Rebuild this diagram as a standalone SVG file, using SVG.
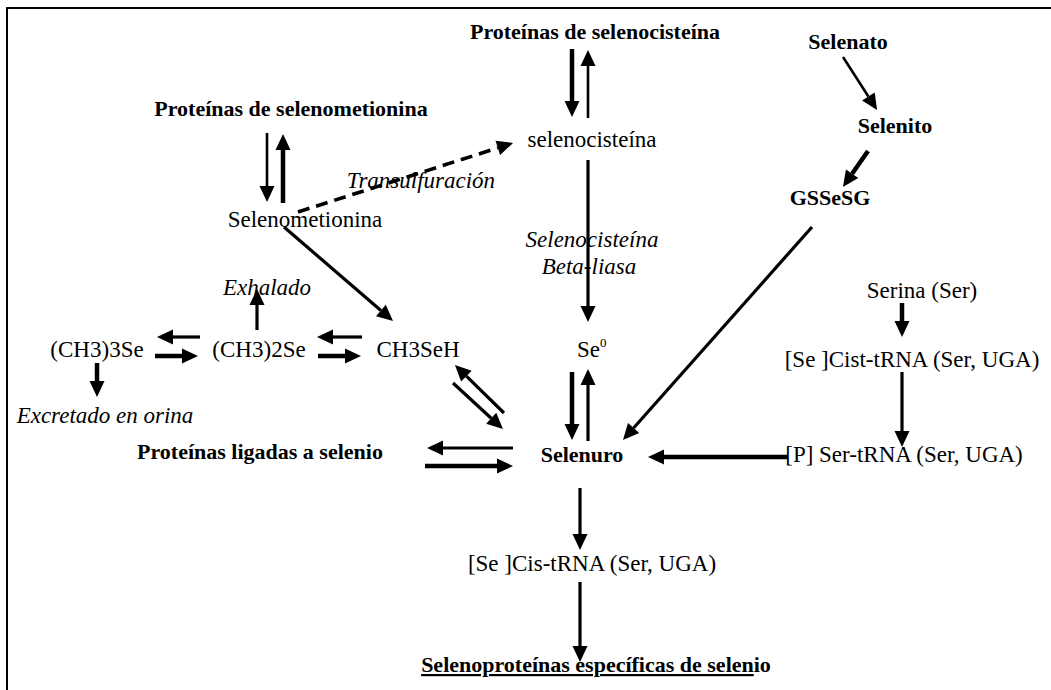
<svg xmlns="http://www.w3.org/2000/svg" width="1051" height="690" viewBox="0 0 1051 690">
<style>
text{font-family:'Liberation Serif','Times New Roman',serif;fill:#000}
.b{font-weight:bold;font-size:22px}
.r{font-size:23px}
.i{font-size:23px;font-style:italic}
.m{text-anchor:middle}
.a{stroke:#000;fill:none;marker-end:url(#h)}
.t1{stroke-width:2.6}
.t2{stroke-width:3.2}
.t3{stroke-width:4.5}
.d{stroke-dasharray:12 7}
</style>
<defs>
<marker id="h" markerUnits="userSpaceOnUse" markerWidth="20" markerHeight="20" refX="0" refY="0" viewBox="0 -10 20 20" orient="auto" overflow="visible">
<path d="M0,-7.5 L16,0 L0,7.5 z" fill="#000"/>
</marker>
</defs>
<rect x="0" y="0" width="1051" height="690" fill="#fff"/>
<rect x="7" y="8" width="1200" height="800" fill="none" stroke="#000" stroke-width="2"/>

<g id="connectors">
<line class="a t1" x1="267" y1="133" x2="267" y2="186"/>
<line class="a t3" x1="283" y1="203" x2="283" y2="150"/>
<line class="a t3" x1="572" y1="49" x2="572" y2="101"/>
<line class="a t1" x1="588" y1="118" x2="588" y2="66"/>
<line class="a d" x1="298" y1="212" x2="497.8" y2="147.9" stroke-width="3.6"/>
<line class="a t2" x1="284" y1="227" x2="380.9" y2="310.5"/>
<line class="a t2" x1="257" y1="330" x2="257" y2="305"/>
<line class="a t2" x1="200" y1="337" x2="173" y2="337"/>
<line class="a t3" x1="155" y1="356" x2="182" y2="356"/>
<line class="a t2" x1="362" y1="337" x2="333" y2="337"/>
<line class="a t3" x1="318" y1="356" x2="345" y2="356"/>
<line class="a t3" x1="97" y1="363" x2="97" y2="381"/>
<line class="a t2" x1="504" y1="413" x2="466.4" y2="376.2"/>
<line class="a t2" x1="453" y1="383" x2="491.2" y2="418.2"/>
<line class="a t2" x1="588" y1="160" x2="588" y2="306"/>
<line class="a t3" x1="572" y1="372" x2="572" y2="424"/>
<line class="a t2" x1="588" y1="441" x2="588" y2="385"/>
<line class="a t2" x1="812" y1="227" x2="633.6" y2="428"/>
<line class="a t1" x1="843" y1="57" x2="868.4" y2="96.5"/>
<line class="a t3" x1="868" y1="151" x2="852.1" y2="173.8"/>
<line class="a t3" x1="902" y1="303" x2="902" y2="321"/>
<line class="a t2" x1="902" y1="372" x2="902" y2="431"/>
<line class="a t3" x1="788" y1="457" x2="664" y2="457"/>
<line class="a t2" x1="513" y1="448" x2="443" y2="448"/>
<line class="a t3" x1="425" y1="466" x2="497" y2="466"/>
<line class="a t2" x1="580" y1="488" x2="580" y2="534"/>
<line class="a t2" x1="580" y1="582" x2="580" y2="646"/>
</g>

<g id="n-prot-selenocisteina"><text class="b m" x="595" y="39">Proteínas de selenocisteína</text></g>
<g id="n-selenato"><text class="b m" x="848" y="49">Selenato</text></g>
<g id="n-selenito"><text class="b m" x="895" y="133">Selenito</text></g>
<g id="n-gssesg"><text class="b m" x="830" y="205">GSSeSG</text></g>
<g id="n-prot-selenometionina"><text class="b m" x="291" y="116">Proteínas de selenometionina</text></g>
<g id="n-selenocisteina"><text class="r m" x="592" y="147">selenocisteína</text></g>
<g id="l-transulfuracion"><text class="i m" x="421" y="188">Transulfuración</text></g>
<g id="n-selenometionina"><text class="r m" x="305" y="227">Selenometionina</text></g>
<g id="l-liasa"><text class="i m" x="592" y="247">Selenocisteína</text><text class="i m" x="589" y="274">Beta-liasa</text></g>
<g id="n-exhalado"><text class="i m" x="267" y="295">Exhalado</text></g>
<g id="n-ch33se"><text class="r m" x="97" y="357">(CH3)3Se</text></g>
<g id="n-ch32se"><text class="r m" x="259" y="357">(CH3)2Se</text></g>
<g id="n-ch3seh"><text class="r m" x="418" y="357">CH3SeH</text></g>
<g id="n-se0"><text class="r" x="577" y="357">Se<tspan font-size="13" dy="-10">0</tspan></text></g>
<g id="n-excretado"><text class="i m" x="105" y="423">Excretado en orina</text></g>
<g id="n-prot-ligadas"><text class="b m" x="260" y="459">Proteínas ligadas a selenio</text></g>
<g id="n-selenuro"><text class="b m" x="582" y="462">Selenuro</text></g>
<g id="n-p-ser-trna"><text class="r m" x="904" y="462">[P] Ser-tRNA (Ser, UGA)</text></g>
<g id="n-serina"><text class="r m" x="922" y="298">Serina (Ser)</text></g>
<g id="n-se-cist-trna"><text class="r m" x="912" y="367">[Se ]Cist-tRNA (Ser, UGA)</text></g>
<g id="n-se-cis-trna"><text class="r m" x="592" y="571">[Se ]Cis-tRNA (Ser, UGA)</text></g>
<g id="n-selenoproteinas"><text class="b m" x="596" y="672"><tspan style="text-decoration:underline">Selenoproteínas específicas de selen</tspan>io</text></g>
</svg>
